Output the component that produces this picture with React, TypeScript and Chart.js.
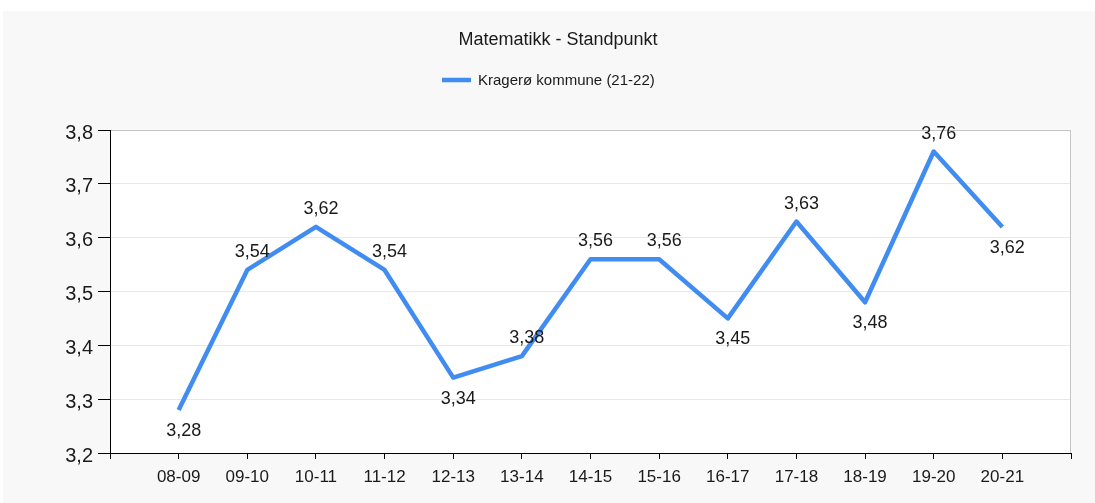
import React, { useEffect, useRef } from 'react';
import { Chart, registerables } from 'chart.js';

Chart.register(...registerables);

const TITLE = 'Matematikk - Standpunkt';
const SERIES_LABEL = 'Kragerø kommune (21-22)';
const CATEGORIES = ['08-09', '09-10', '10-11', '11-12', '12-13', '13-14', '14-15', '15-16', '16-17', '17-18', '18-19', '19-20', '20-21'];
const VALUES = [3.28, 3.54, 3.62, 3.54, 3.34, 3.38, 3.56, 3.56, 3.45, 3.63, 3.48, 3.76, 3.62];
const LABEL_SIDES = ['below', 'above', 'above', 'above', 'below', 'above', 'above', 'above', 'below', 'above', 'below', 'above', 'below'];
const Y_MIN = 3.2;
const Y_MAX = 3.8;
const Y_STEP = 0.1;

const LINE_COLOR = '#418cf0';
const TEXT_COLOR = '#1a1a1a';
const FONT = '"Liberation Sans", Arial, sans-serif';

const fmt = (v: number, d: number) => v.toFixed(d).replace('.', ',');

const plotBgPlugin = {
  id: 'plotBg',
  beforeDraw(chart: any) {
    const { ctx, chartArea } = chart;
    ctx.save();
    ctx.fillStyle = '#ffffff';
    ctx.fillRect(chartArea.left, chartArea.top, chartArea.right - chartArea.left, chartArea.bottom - chartArea.top);
    ctx.restore();
  },
  beforeDatasetsDraw(chart: any) {
    const { ctx, chartArea } = chart;
    ctx.save();
    ctx.strokeStyle = '#c4c4c4';
    ctx.lineWidth = 1;
    ctx.beginPath();
    const x = Math.round(chartArea.right) - 0.5;
    ctx.moveTo(x, chartArea.top);
    ctx.lineTo(x, chartArea.bottom);
    ctx.stroke();
    ctx.restore();
  },
};

const headerPlugin = {
  id: 'header',
  afterDraw(chart: any, _args: any, opts: any) {
    const { ctx } = chart;
    const ds = chart.data.datasets[0];
    ctx.save();
    ctx.fillStyle = TEXT_COLOR;
    ctx.textBaseline = 'alphabetic';
    ctx.font = `18px ${FONT}`;
    ctx.textAlign = 'center';
    ctx.fillText(opts.title, opts.titleX, opts.titleY);
    ctx.strokeStyle = ds.borderColor;
    ctx.lineWidth = 4.5;
    ctx.beginPath();
    ctx.moveTo(opts.legendX, opts.legendLineY);
    ctx.lineTo(opts.legendX + opts.legendLine, opts.legendLineY);
    ctx.stroke();
    ctx.font = `15px ${FONT}`;
    ctx.textAlign = 'left';
    ctx.fillText(ds.label, opts.legendTextX, opts.legendTextY);
    ctx.restore();
  },
};

const dataLabelPlugin = {
  id: 'valueLabels',
  afterDatasetsDraw(chart: any) {
    const { ctx } = chart;
    const meta = chart.getDatasetMeta(0);
    const data = chart.data.datasets[0].data;
    ctx.save();
    ctx.fillStyle = TEXT_COLOR;
    ctx.font = `18px ${FONT}`;
    ctx.textAlign = 'center';
    ctx.textBaseline = 'alphabetic';
    meta.data.forEach((pt: any, i: number) => {
      const v = data[i];
      if (v === null || v === undefined) return;
      const side = LABEL_SIDES[i - 1];
      const y = side === 'above' ? pt.y - 13 : pt.y + 26;
      ctx.fillText(fmt(v, 2), pt.x + 5, y);
    });
    ctx.restore();
  },
};

export default function App() {
  const canvasRef = useRef<HTMLCanvasElement>(null);

  useEffect(() => {
    const canvas = canvasRef.current;
    if (!canvas) return;
    const labels = ['', ...CATEGORIES, ''];
    const data = [null, ...VALUES, null];
    const chart = new Chart(canvas, {
      type: 'line',
      data: {
        labels,
        datasets: [
          {
            label: SERIES_LABEL,
            data,
            borderColor: LINE_COLOR,
            backgroundColor: LINE_COLOR,
            borderWidth: 4.5,
            pointRadius: 0,
            pointHoverRadius: 0,
            tension: 0,
            fill: false,
            spanGaps: false,
            borderJoinStyle: 'round',
          },
        ],
      },
      options: {
        responsive: false,
        animation: false,
        layout: { padding: { top: 119, right: 24, left: 0, bottom: 0 } },
        plugins: {
          legend: { display: false },
          title: { display: false },
          tooltip: { enabled: false },
          header: {
            title: TITLE,
            titleX: 555,
            titleY: 34,
            legendX: 439,
            legendLine: 29,
            legendLineY: 69,
            legendTextX: 475,
            legendTextY: 74,
          },
        } as any,
        scales: {
          x: {
            type: 'category',
            offset: false,
            afterFit: (s: any) => {
              s.height = 50;
            },
            grid: {
              display: true,
              drawOnChartArea: false,
              drawTicks: true,
              tickLength: 6,
              tickColor: '#000000',
              offset: false,
            },
            border: { display: true, color: '#000000', width: 1 },
            ticks: {
              autoSkip: false,
              maxRotation: 0,
              minRotation: 0,
              padding: 8,
              color: TEXT_COLOR,
              font: { family: FONT, size: 17 },
            },
          },
          y: {
            min: Y_MIN,
            max: Y_MAX,
            afterFit: (s: any) => {
              s.width = 107;
            },
            grid: {
              color: (c: any) => {
                const v = c.tick ? c.tick.value : 0;
                if (Math.abs(v - Y_MIN) < 1e-6) return 'rgba(0,0,0,0)';
                if (Math.abs(v - Y_MAX) < 1e-6) return '#c4c4c4';
                return '#e8e8e8';
              },
              tickColor: '#000000',
              tickLength: 12,
              lineWidth: 1,
            },
            border: { display: true, color: '#000000', width: 1 },
            ticks: {
              stepSize: Y_STEP,
              padding: 5,
              labelOffset: 3,
              color: TEXT_COLOR,
              font: { family: FONT, size: 20 },
              callback: (v: any) => fmt(Number(v), 1),
            },
          },
        },
      },
      plugins: [plotBgPlugin, headerPlugin, dataLabelPlugin],
    });
    return () => chart.destroy();
  }, []);

  return (
    <div style={{ position: 'absolute', left: 0, top: 0, width: 1095, height: 503, background: '#ffffff', overflow: 'hidden' }}>
      <div style={{ position: 'absolute', left: 3, top: 11, width: 1092, height: 492, background: '#f8f8f8' }}>
        <canvas ref={canvasRef} width={1092} height={492} style={{ display: 'block', width: 1092, height: 492 }} />
      </div>
    </div>
  );
}
